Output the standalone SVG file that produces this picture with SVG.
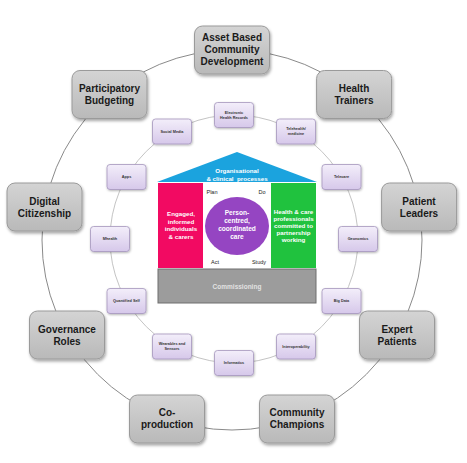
<svg xmlns="http://www.w3.org/2000/svg" width="467" height="463" viewBox="0 0 467 463">
<style>
.big rect{fill:url(#gGray);stroke:#9a9a9a;stroke-width:1;filter:url(#sh)}
.big text{font-family:"Liberation Sans",Arial,sans-serif;font-weight:bold;font-size:10px;fill:#1a1a1a;text-anchor:middle}
.sm rect{fill:url(#gPur);stroke:#a595bd;stroke-width:0.8;filter:url(#sh2)}
.sm text{font-family:"Liberation Sans",Arial,sans-serif;font-weight:bold;font-size:3.8px;fill:#333;text-anchor:middle}
.wt{font-family:"Liberation Sans",Arial,sans-serif;font-weight:bold;font-size:6.2px;fill:#fff;text-anchor:middle}
.bk{font-family:"Liberation Sans",Arial,sans-serif;font-size:5.5px;fill:#222;text-anchor:middle}
.ring{fill:none}
</style>
<defs>
<linearGradient id="gGray" x1="0" y1="0" x2="0" y2="1">
<stop offset="0" stop-color="#d4d4d4"/><stop offset="1" stop-color="#b9b9b9"/>
</linearGradient>
<linearGradient id="gPur" x1="0" y1="0" x2="0" y2="1">
<stop offset="0" stop-color="#f3eefa"/><stop offset="1" stop-color="#d6c8ea"/>
</linearGradient>
<filter id="sh" x="-20%" y="-20%" width="140%" height="150%">
<feDropShadow dx="1" dy="2" stdDeviation="1.5" flood-color="#000" flood-opacity="0.35"/>
</filter>
<filter id="sh2" x="-20%" y="-20%" width="140%" height="150%">
<feDropShadow dx="0.6" dy="1" stdDeviation="0.8" flood-color="#000" flood-opacity="0.3"/>
</filter>
<marker id="ah" markerWidth="4" markerHeight="4" refX="3" refY="2" orient="auto" markerUnits="userSpaceOnUse">
<path d="M0,0 L4,2 L0,4 z" fill="#222"/>
</marker>
</defs>
<rect width="467" height="463" fill="#fff"/>
<g id="connectors">
<circle class="ring" cx="232" cy="240" r="190" stroke="#8a8a8a" stroke-width="1"/>
<circle class="ring" cx="234" cy="239" r="124" stroke="#c4c4c4" stroke-width="1"/>
<path d="M207,203 Q213,196 223,199" fill="none" stroke="#222" stroke-width="0.7" stroke-dasharray="1.5,1" marker-end="url(#ah)"/>
<path d="M252,196 Q261,197 266,204" fill="none" stroke="#222" stroke-width="0.7" stroke-dasharray="1.5,1" marker-end="url(#ah)"/>
</g>
<g id="house">
<polygon points="237,152 317,182 157,182" fill="#1ba3de"/>
<text class="wt" x="237" y="173">Organisational</text>
<text class="wt" x="237" y="180.5" xml:space="preserve">&amp; clinical  processes</text>
<rect x="158" y="183" width="45" height="85" fill="#f20a62"/>
<rect x="203" y="183" width="68" height="85" fill="#fff"/>
<rect x="271" y="183" width="45" height="85" fill="#20c23e"/>
<ellipse cx="237" cy="226" rx="32" ry="29" fill="#9545c2"/>
<rect x="158" y="269" width="158" height="34" fill="#9c9c9c" stroke="#6e6e6e" stroke-width="1"/>
<text class="wt" x="237" y="288.5" style="fill:#e2e2e2;font-size:6.5px">Commissioning</text>
<text class="wt" x="181" y="216">Engaged,</text>
<text class="wt" x="181" y="223.5">informed</text>
<text class="wt" x="181" y="231">individuals</text>
<text class="wt" x="181" y="238.5">&amp; carers</text>
<text class="wt" x="237" y="215" style="font-size:6.6px">Person-</text>
<text class="wt" x="237" y="223" style="font-size:6.6px">centred,</text>
<text class="wt" x="237" y="231" style="font-size:6.6px">coordinated</text>
<text class="wt" x="237" y="239" style="font-size:6.6px">care</text>
<text class="wt" x="293.5" y="213.5">Health &amp; care</text>
<text class="wt" x="293.5" y="220.5">professionals</text>
<text class="wt" x="293.5" y="227.5">committed to</text>
<text class="wt" x="293.5" y="234.5">partnership</text>
<text class="wt" x="293.5" y="241.5">working</text>
<text class="bk" x="212" y="194">Plan</text>
<text class="bk" x="262" y="194">Do</text>
<text class="bk" x="215" y="264">Act</text>
<text class="bk" x="259" y="264">Study</text>
</g>
<g id="n-asset" class="big"><rect x="194.5" y="26" width="75" height="48" rx="8"/><text x="232" y="41">Asset Based</text><text x="232" y="53">Community</text><text x="232" y="65">Development</text></g>
<g id="n-health-trainers" class="big"><rect x="316.6" y="70.5" width="75" height="48" rx="8"/><text x="354" y="92">Health</text><text x="354" y="104">Trainers</text></g>
<g id="n-patient-leaders" class="big"><rect x="381.6" y="183" width="75" height="48" rx="8"/><text x="419" y="204.5">Patient</text><text x="419" y="216.5">Leaders</text></g>
<g id="n-expert-patients" class="big"><rect x="359.5" y="311" width="75" height="48" rx="8"/><text x="397" y="332.5">Expert</text><text x="397" y="344.5">Patients</text></g>
<g id="n-community-champions" class="big"><rect x="259.5" y="395" width="75" height="48" rx="8"/><text x="297" y="416">Community</text><text x="297" y="428">Champions</text></g>
<g id="n-coproduction" class="big"><rect x="129.5" y="395" width="75" height="48" rx="8"/><text x="167" y="416">Co-</text><text x="167" y="428">production</text></g>
<g id="n-governance" class="big"><rect x="29.5" y="311" width="75" height="48" rx="8"/><text x="67" y="332.5">Governance</text><text x="67" y="344.5">Roles</text></g>
<g id="n-digital" class="big"><rect x="7" y="183" width="75" height="48" rx="8"/><text x="44.5" y="204.5">Digital</text><text x="44.5" y="216.5">Citizenship</text></g>
<g id="n-participatory" class="big"><rect x="72" y="70.5" width="75" height="48" rx="8"/><text x="109.5" y="92">Participatory</text><text x="109.5" y="104">Budgeting</text></g>
<g id="s-ehr" class="sm"><rect x="214.5" y="102.5" width="39" height="25" rx="3"/><text x="234" y="113.5">Electronic</text><text x="234" y="118.5">Health Records</text></g>
<g id="s-telehealth" class="sm"><rect x="276.5" y="119" width="39" height="25" rx="3"/><text x="296" y="130">Telehealth/</text><text x="296" y="135">medicine</text></g>
<g id="s-telecare" class="sm"><rect x="322" y="164.5" width="39" height="25" rx="3"/><text x="341.5" y="178.3">Telecare</text></g>
<g id="s-geonomics" class="sm"><rect x="338.5" y="226.5" width="39" height="25" rx="3"/><text x="358" y="240.3">Geonomics</text></g>
<g id="s-bigdata" class="sm"><rect x="322" y="288.5" width="39" height="25" rx="3"/><text x="341.5" y="302.3">Big Data</text></g>
<g id="s-interop" class="sm"><rect x="276.5" y="334" width="39" height="25" rx="3"/><text x="296" y="347.8">Interoperability</text></g>
<g id="s-informatics" class="sm"><rect x="214.5" y="350.5" width="39" height="25" rx="3"/><text x="234" y="364.3">Informatics</text></g>
<g id="s-wearables" class="sm"><rect x="152.5" y="334" width="39" height="25" rx="3"/><text x="172" y="345">Wearables and</text><text x="172" y="350">Sensors</text></g>
<g id="s-quantified" class="sm"><rect x="107" y="288.5" width="39" height="25" rx="3"/><text x="126.5" y="302.3">Quantified Self</text></g>
<g id="s-mhealth" class="sm"><rect x="90.5" y="226.5" width="39" height="25" rx="3"/><text x="110" y="240.3">Mhealth</text></g>
<g id="s-apps" class="sm"><rect x="107" y="164.5" width="39" height="25" rx="3"/><text x="126.5" y="178.3">Apps</text></g>
<g id="s-social" class="sm"><rect x="152.5" y="119" width="39" height="25" rx="3"/><text x="172" y="132.8">Social Media</text></g>
</svg>
